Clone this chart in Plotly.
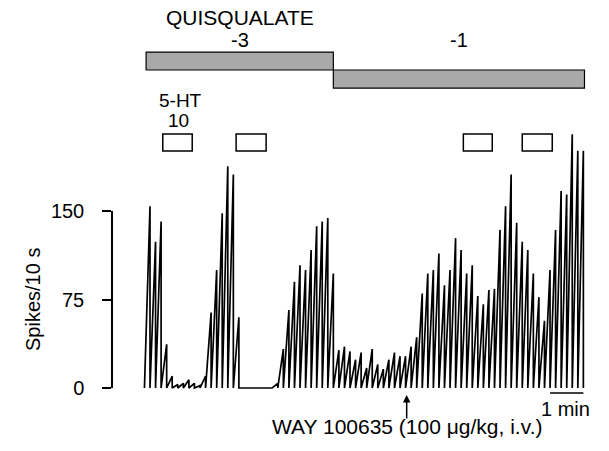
import plotly.graph_objects as go

# ---- data ----
bin_seconds = 10
spikes_per_bin = [
    154, 124, 141, 37, 10, 3, 4, 7, 4, 2, 10, 64, 100, 148, 188, 181, 60,
    0, 0, 0, 0, 0, 0, 4,
    33, 66, 90, 104, 100, 117, 137, 141, 144, 97,
    32, 35, 31, 24, 30, 17, 33, 20, 16, 24, 30, 27, 27, 35, 43,
    80, 97, 100, 114, 87, 100, 127, 117, 97, 104, 78, 71, 83, 84, 134, 154,
    181, 140, 124, 117, 97, 77, 57, 100, 134, 167, 164, 215, 201, 201,
]
quis_labels = ["-3", "-1"]
quis_start = [3, 340]
quis_end = [340, 792]
ht_start = [33, 165, 574, 680]
ht_end = [86, 219, 626, 734]
way_time = 472
scale_bar = [730, 790]
y_ticks = [0, 75, 150]

# ---- build ratemeter (integrating) trace ----
xs, ys = [], []
for i, v in enumerate(spikes_per_bin):
    t0 = i * bin_seconds
    t1 = (i + 1) * bin_seconds
    xs += [t0, t1, t1]
    ys += [0, v, 0]

FONT = "Liberation Sans, Arial, Helvetica, sans-serif"
OFF = 8  # page body margin

W, H = 609, 451
px_per_s = 0.5556
x0_px = 144.44 - OFF
px_per_unit = 1.18
base_px = 388 - OFF

fig = go.Figure()
fig.add_trace(go.Scatter(x=xs, y=ys, mode="lines",
                         line=dict(color="black", width=1.7),
                         hoverinfo="skip", showlegend=False))
fig.add_trace(go.Scatter(x=[0], y=[0], yaxis="y2", mode="markers",
                         marker=dict(opacity=0), hoverinfo="skip",
                         showlegend=False))

shapes = []
quis_y = [(269.5, 284.7), (254.2, 269.5)]
for s, e, (y0, y1) in zip(quis_start, quis_end, quis_y):
    shapes.append(dict(type="rect", xref="x", yref="y", x0=s, x1=e, y0=y0, y1=y1,
                       fillcolor="#a9a9a9", line=dict(color="black", width=1.2)))
for s, e in zip(ht_start, ht_end):
    shapes.append(dict(type="rect", xref="x", yref="y", x0=s, x1=e, y0=200.8, y1=215.3,
                       fillcolor="white", line=dict(color="black", width=1.5)))
shapes.append(dict(type="line", xref="x", yref="y", x0=scale_bar[0], x1=scale_bar[1],
                   y0=-4.2, y1=-4.2, line=dict(color="black", width=1.5)))

annotations = [
    dict(x=172, y=313.6, text="QUISQUALATE", showarrow=False, font_size=21),
    dict(x=172, y=295.0, text=quis_labels[0], showarrow=False),
    dict(x=566, y=295.0, text=quis_labels[1], showarrow=False),
    dict(x=64, y=244.0, text="5-HT", showarrow=False, font_size=19),
    dict(x=61, y=226.5, text="10", showarrow=False, font_size=19),
    dict(x=sum(scale_bar) / 2 - 2, y=-17.8, text="1 min", showarrow=False),
    dict(x=way_time, y=-33, text="WAY 100635 (100 μg/kg, i.v.)", showarrow=False,
         font_size=21),
    dict(x=way_time, y=-5.9, text="", showarrow=True, arrowhead=2, arrowsize=1,
         arrowwidth=1.5, arrowcolor="black", ax=0, ay=25),
    dict(xref="paper", yref="paper", x=(20 - OFF) / W, y=(H - (300 - OFF)) / H,
         text="Spikes/10 s", textangle=-90, showarrow=False),
]
for a in annotations:
    a.setdefault("xref", "x")
    a.setdefault("yref", "y")
    fs = a.pop("font_size", 20)
    a["font"] = dict(family=FONT, size=fs, color="black")

fig.update_layout(
    width=W, height=H,
    margin=dict(l=0, r=0, t=0, b=0, autoexpand=False),
    paper_bgcolor="white", plot_bgcolor="rgba(0,0,0,0)",
    font=dict(family=FONT, size=20, color="black"),
    xaxis=dict(range=[-x0_px / px_per_s, (W - x0_px) / px_per_s],
               visible=False, showgrid=False, zeroline=False, automargin=False),
    yaxis=dict(range=[-(H - base_px) / px_per_unit, base_px / px_per_unit],
               visible=False, showgrid=False, zeroline=False, automargin=False),
    yaxis2=dict(range=[0, 150], domain=[(H - base_px) / H,
                                        (H - base_px + 150 * px_per_unit) / H],
                anchor="free", position=(112 - OFF) / W, side="left",
                automargin=False,
                showline=True, linecolor="black", linewidth=1.5,
                ticks="outside", ticklen=9, tickwidth=1.5, tickcolor="black",
                tickvals=y_ticks, ticktext=[str(v) for v in y_ticks],
                ticklabelstandoff=14,
                tickfont=dict(family=FONT, size=20, color="black"),
                showgrid=False, zeroline=False),
    shapes=shapes,
    annotations=annotations,
    showlegend=False,
)

fig.write_html("out.html")
